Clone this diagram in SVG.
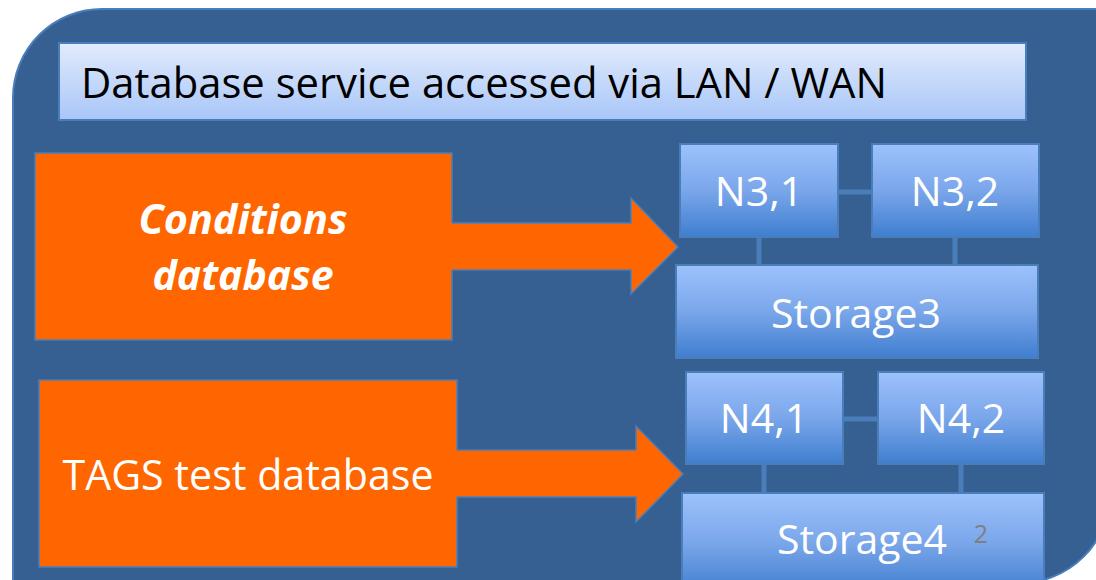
<svg xmlns="http://www.w3.org/2000/svg" width="1096" height="580" viewBox="0 0 1096 580">
<style>
.bg{fill:#376092;stroke:#4a7ebb;stroke-width:2}
.hdr{fill:url(#hg);stroke:#4a7ebb;stroke-width:2}
.org{fill:#ff6600;stroke:#4a7ebb;stroke-width:1.5}
.orgf{fill:#ff6600;stroke:none}
.orgs{fill:none;stroke:#4a7ebb;stroke-width:1.5}
.nd{fill:url(#ng);stroke:#4a7ebb;stroke-width:2}
.cn{stroke:#4a7ebb;stroke-width:5;fill:none}
.t{font-family:"Open Sans","Noto Sans","Liberation Sans",sans-serif;fill:#fff;text-anchor:middle}
</style>
<defs>
<linearGradient id="hg" x1="0" y1="0" x2="0" y2="1">
<stop offset="0" stop-color="#e2ebfc"/>
<stop offset="1" stop-color="#a8c6f8"/>
</linearGradient>
<linearGradient id="ng" x1="0" y1="0" x2="0" y2="1">
<stop offset="0" stop-color="#9dc2fc"/>
<stop offset="0.5" stop-color="#7aa6ea"/>
<stop offset="1" stop-color="#3f7ecf"/>
</linearGradient>
</defs>
<path class="bg" d="M13,98 A89,89 0 0 1 102,9 H1110 V491 A90,90 0 0 1 1018,583 H13 Z"/>
<g id="header">
<rect class="hdr" x="59" y="43" width="967" height="77"/>
<text x="81" y="98" font-family="'Open Sans','Noto Sans','Liberation Sans',sans-serif" font-size="42" fill="#000" textLength="806" lengthAdjust="spacingAndGlyphs">Database service accessed via LAN / WAN</text>
</g>
<g id="conditions">
<rect class="org" x="35" y="153" width="417" height="187"/>
<text class="t" x="243" y="234" font-size="42" font-weight="bold" font-style="italic" textLength="209" lengthAdjust="spacingAndGlyphs">Conditions</text>
<text class="t" x="243" y="290" font-size="42" font-weight="bold" font-style="italic" textLength="181" lengthAdjust="spacingAndGlyphs">database</text>
</g>
<g id="tags">
<rect class="org" x="39" y="380" width="418" height="187"/>
<text class="t" x="248" y="490" font-size="42" textLength="371" lengthAdjust="spacingAndGlyphs">TAGS test database</text>
</g>
<g id="connectors">
<polygon class="orgf" points="451,223 631,223 631,198 678,247 631,294 631,270 451,270"/>
<polyline class="orgs" points="452,223 631,223 631,198 678,247 631,294 631,270 452,270"/>
<polygon class="orgf" points="456,450 636,450 636,426 683,474 636,522 636,497 456,497"/>
<polyline class="orgs" points="457,450 636,450 636,426 683,474 636,522 636,497 457,497"/>
<line class="cn" x1="838" y1="192" x2="872" y2="192"/>
<line class="cn" x1="759" y1="237" x2="759" y2="265"/>
<line class="cn" x1="955" y1="237" x2="955" y2="265"/>
<line class="cn" x1="843" y1="419" x2="878" y2="419"/>
<line class="cn" x1="764" y1="464" x2="764" y2="493"/>
<line class="cn" x1="961" y1="464" x2="961" y2="493"/>
</g>
<g id="n31">
<rect class="nd" x="680" y="144" width="158" height="93"/>
<text class="t" x="759" y="206" font-size="41">N3,1</text>
</g>
<g id="n32">
<rect class="nd" x="872" y="144" width="167" height="93"/>
<text class="t" x="955" y="206" font-size="41">N3,2</text>
</g>
<g id="storage3">
<rect class="nd" x="676" y="265" width="362" height="93"/>
<text class="t" x="856" y="328" font-size="41">Storage3</text>
</g>
<g id="n41">
<rect class="nd" x="686" y="372" width="157" height="92"/>
<text class="t" x="764" y="433" font-size="41">N4,1</text>
</g>
<g id="n42">
<rect class="nd" x="878" y="372" width="166" height="92"/>
<text class="t" x="961" y="433" font-size="41">N4,2</text>
</g>
<g id="storage4">
<rect class="nd" x="682" y="493" width="362" height="100"/>
<text class="t" x="862" y="554" font-size="41">Storage4</text>
<text x="981" y="543" font-family="'Open Sans','Noto Sans','Liberation Sans',sans-serif" font-size="25" fill="#7f7f7f" text-anchor="middle">2</text>
</g>
</svg>
